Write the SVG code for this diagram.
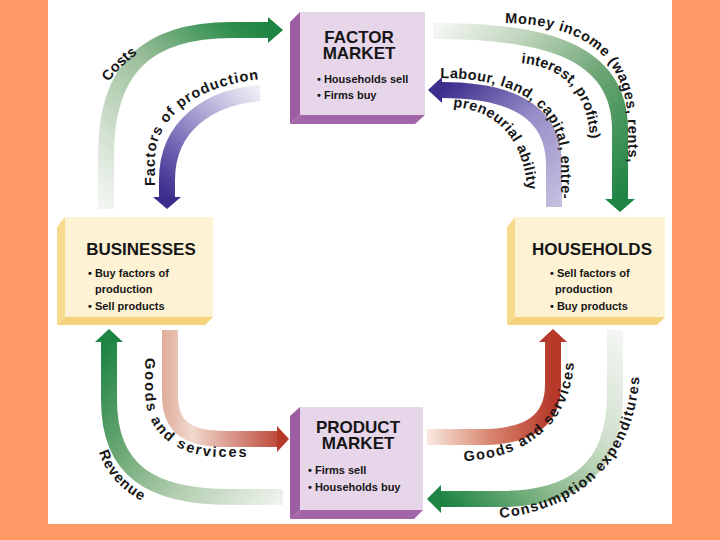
<svg xmlns="http://www.w3.org/2000/svg" width="720" height="540" viewBox="0 0 720 540">
<style>
.t { font-family: "Liberation Sans", Arial, Helvetica, sans-serif; font-weight: bold; fill: #161616; }
.h { font-size: 17px; text-anchor: middle; }
.b { font-size: 11px; }
.l { font-size: 14.5px; }
.band { fill: none; stroke-width: 16; }
.mkt-front { fill: #E7D5E9; }
.mkt-side { fill: #9D5DA3; }
.mkt-bottom { fill: #A266A8; }
.agt-front { fill: #FEF2D4; }
.agt-side { fill: #F8DA8D; }
.agt-bottom { fill: #F5D27C; }
.green { fill: #1E8444; }
.purple { fill: #3B2D8C; }
.red { fill: #B6392A; }
</style>
<defs>
<linearGradient id="gCosts" gradientUnits="userSpaceOnUse" x1="106" y1="209" x2="269" y2="30">
<stop offset="0" stop-color="#F3F6F2"/><stop offset="0.2" stop-color="#D7E4D5"/><stop offset="0.55" stop-color="#9DC09C"/><stop offset="0.9" stop-color="#2F8E4E"/><stop offset="1" stop-color="#1E8444"/>
</linearGradient>
<linearGradient id="gFactors" gradientUnits="userSpaceOnUse" x1="260" y1="93" x2="167" y2="198">
<stop offset="0" stop-color="#EEEDF5"/><stop offset="0.35" stop-color="#B3ABD6"/><stop offset="0.7" stop-color="#6F62B2"/><stop offset="1" stop-color="#3B2D8C"/>
</linearGradient>
<linearGradient id="gMoney" gradientUnits="userSpaceOnUse" x1="433" y1="31" x2="620" y2="199">
<stop offset="0" stop-color="#F5F7F4"/><stop offset="0.3" stop-color="#BBD2B8"/><stop offset="0.6" stop-color="#6DA676"/><stop offset="1" stop-color="#1E8444"/>
</linearGradient>
<linearGradient id="gLabour" gradientUnits="userSpaceOnUse" x1="554" y1="207" x2="441" y2="90">
<stop offset="0" stop-color="#C4BEDF"/><stop offset="0.5" stop-color="#978DC8"/><stop offset="1" stop-color="#3B2D8C"/>
</linearGradient>
<linearGradient id="gRevenue" gradientUnits="userSpaceOnUse" x1="283" y1="497" x2="109" y2="342">
<stop offset="0" stop-color="#EEF3EC"/><stop offset="0.35" stop-color="#B3CEB0"/><stop offset="0.65" stop-color="#6BA874"/><stop offset="1" stop-color="#1E8444"/>
</linearGradient>
<linearGradient id="gConsum" gradientUnits="userSpaceOnUse" x1="615" y1="330" x2="441" y2="499">
<stop offset="0" stop-color="#F4F6F3"/><stop offset="0.35" stop-color="#CFDFCC"/><stop offset="0.65" stop-color="#8DBA8E"/><stop offset="1" stop-color="#1E8444"/>
</linearGradient>
<linearGradient id="gGoodsL" gradientUnits="userSpaceOnUse" x1="160" y1="0" x2="288" y2="0">
<stop offset="0" stop-color="#DDA996"/><stop offset="0.25" stop-color="#F1D9CD"/><stop offset="1" stop-color="#B6392A"/>
</linearGradient>
<linearGradient id="gGoodsR" gradientUnits="userSpaceOnUse" x1="427" y1="0" x2="553" y2="0">
<stop offset="0" stop-color="#F8E8E0"/><stop offset="0.5" stop-color="#D9866F"/><stop offset="1" stop-color="#B6392A"/>
</linearGradient>
<path id="tpCosts" d="M109,82 Q120,64 148,47"/>
<path id="tpFactors" d="M155,186 L155,160 C155,115 200,85 262,79"/>
<path id="tpMoney" d="M505,23 C560,24 628,40 628,128 L628,190"/>
<path id="tpInterest" d="M521,63 C565,68 591,92 591,155"/>
<path id="tpLabour" d="M440,78 C515,78 561,105 561,165 L561,215"/>
<path id="tpPrene" d="M453,107 C497,110 528,140 528,205"/>
<path id="tpGoodsL" d="M145,358 L145,390 C145,435 178,457 222,457 L270,457"/>
<path id="tpRevenue" d="M99,452 C106,474 122,494 160,510"/>
<path id="tpGoodsR" d="M464,461 C520,459 574,428 574,355"/>
<path id="tpConsum" d="M500,518 C575,510 640,465 640,360"/>
</defs>

<rect x="0" y="0" width="720" height="540" fill="#FF9966"/>
<rect x="48" y="0" width="624" height="524" fill="#FFFFFF"/>

<g id="connectors">
<path class="band" stroke="url(#gCosts)" d="M106,209 L106,155 C106,69 146,30 232,30 L269,30"/>
<polygon class="green" points="268,17 283,30 268,43"/>
<path class="band" stroke="url(#gFactors)" d="M260,93 C210,97 167,125 167,180 L167,198"/>
<polygon class="purple" points="153,197 181,197 167,209"/>
<path class="band" stroke="url(#gMoney)" d="M433,31 C525,31 620,42 620,130 L620,200"/>
<polygon class="green" points="605,199 635,199 620,212"/>
<path class="band" stroke="url(#gLabour)" d="M554,207 L554,165 C554,110 510,90 441,90"/>
<polygon class="purple" points="442,77 442,103 428,90"/>
<path class="band" stroke="url(#gGoodsL)" d="M170,330 L170,395 C170,425 185,439 225,439 L278,439"/>
<polygon class="red" points="277,426 277,452 289,439"/>
<path class="band" stroke="url(#gRevenue)" d="M283,497 L230,497 C150,497 109,470 109,400 L109,341"/>
<polygon class="green" points="95,342 123,342 109,329"/>
<path class="band" stroke="url(#gGoodsR)" d="M427,437 L480,437 C530,437 553,420 553,385 L553,341"/>
<polygon class="red" points="539,342 567,342 553,329"/>
<path class="band" stroke="url(#gConsum)" d="M615,330 L615,395 C615,470 572,499 500,499 L440,499"/>
<polygon class="green" points="441,485 441,513 427,499"/>

<text class="t l"><textPath href="#tpCosts">Costs</textPath></text>
<text class="t l" letter-spacing="1"><textPath href="#tpFactors">Factors of production</textPath></text>
<text class="t l" letter-spacing="0.65"><textPath href="#tpMoney">Money income (wages, rents,</textPath></text>
<text class="t l" letter-spacing="0.2"><textPath href="#tpInterest">interest, profits)</textPath></text>
<text class="t l" letter-spacing="0.5"><textPath href="#tpLabour">Labour, land, capital, entre-</textPath></text>
<text class="t l" letter-spacing="0.4"><textPath href="#tpPrene">preneurial ability</textPath></text>
<text class="t l" letter-spacing="2"><textPath href="#tpGoodsL">Goods and services</textPath></text>
<text class="t l" letter-spacing="1"><textPath href="#tpRevenue">Revenue</textPath></text>
<text class="t l" letter-spacing="1.5"><textPath href="#tpGoodsR">Goods and services</textPath></text>
<text class="t l" letter-spacing="1.3"><textPath href="#tpConsum">Consumption expenditures</textPath></text>
</g>

<g id="factor-market">
<polygon class="mkt-side" points="300,12 290,22 290,124 300,115"/>
<polygon class="mkt-bottom" points="290,124 415,124 425,115 300,115"/>
<rect class="mkt-front" x="300" y="12" width="125" height="103"/>
<text class="t h" x="359" y="43">FACTOR</text>
<text class="t h" x="359" y="59">MARKET</text>
<text class="t b" x="317" y="83">• Households sell</text>
<text class="t b" x="317" y="99">• Firms buy</text>
</g>

<g id="businesses">
<polygon class="agt-side" points="65,217 57,227 57,325 65,317"/>
<polygon class="agt-bottom" points="57,325 205,325 213,317 65,317"/>
<rect class="agt-front" x="65" y="217" width="148" height="100"/>
<text class="t h" x="141" y="255">BUSINESSES</text>
<text class="t b" x="88" y="277">• Buy factors of</text>
<text class="t b" x="95" y="293">production</text>
<text class="t b" x="88" y="310">• Sell products</text>
</g>

<g id="households">
<polygon class="agt-side" points="515,217 507,227 507,325 515,317"/>
<polygon class="agt-bottom" points="507,325 657,325 665,317 515,317"/>
<rect class="agt-front" x="515" y="217" width="150" height="100"/>
<text class="t h" x="592" y="255">HOUSEHOLDS</text>
<text class="t b" x="550" y="277">• Sell factors of</text>
<text class="t b" x="555" y="293">production</text>
<text class="t b" x="550" y="310">• Buy products</text>
</g>

<g id="product-market">
<polygon class="mkt-side" points="300,407 290,416 290,519 300,510"/>
<polygon class="mkt-bottom" points="290,519 414,519 423,510 300,510"/>
<rect class="mkt-front" x="300" y="407" width="123" height="103"/>
<text class="t h" x="358" y="433">PRODUCT</text>
<text class="t h" x="358" y="449">MARKET</text>
<text class="t b" x="308" y="474">• Firms sell</text>
<text class="t b" x="308" y="491">• Households buy</text>
</g>
</svg>
